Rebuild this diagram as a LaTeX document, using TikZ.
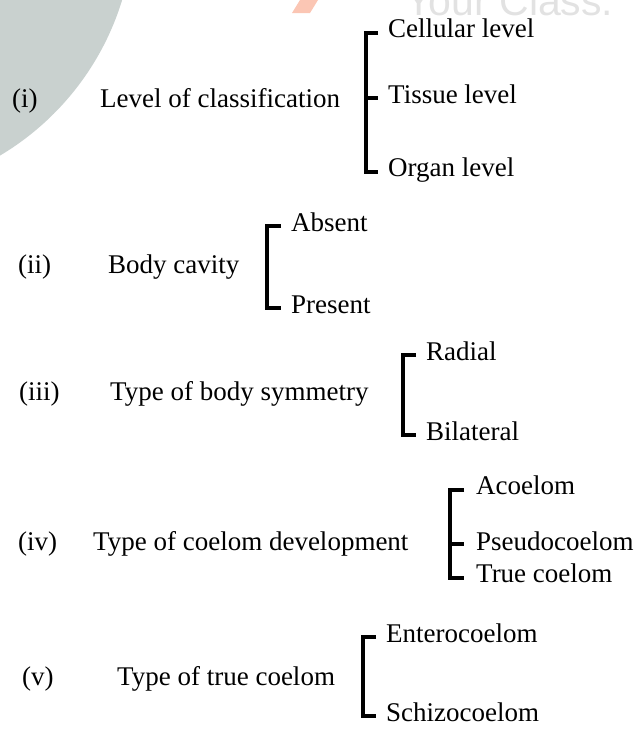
\documentclass[tikz,border=0pt]{standalone}
\usepackage{fontspec}
\setmainfont{Liberation Serif}
\setsansfont{Liberation Sans}

\definecolor{wmgrey}{RGB}{201,209,207}
\definecolor{wmorange}{RGB}{251,198,180}
\definecolor{wmtext}{RGB}{226,226,226}

\begin{document}
\begin{tikzpicture}[x=1pt, y=-1pt, every node/.style={inner sep=0pt, anchor=base west, font=\fontsize{27}{32}\selectfont}, brak/.style={line width=3.5pt}]
    \useasboundingbox (0,0) rectangle (633,729);
    \clip (0,0) rectangle (633,729);
    % watermark
    \fill[wmgrey] (-140,-80) circle[radius=274];
    \fill[wmorange] (300,0) -- (318,0) -- (310,13) -- (292,13) -- cycle;
    \node[font=\sffamily\fontsize{41}{41}\selectfont, text=wmtext] (wm) at (405,15) {Your Class.};

    % (i)
    \node (n1) at (12,107) {(i)};
    \node (lev) at (100,107) {Level of classification};
    \node (cell) at (388,37) {Cellular level};
    \node (tis) at (388,103) {Tissue level};
    \node (org) at (388,176) {Organ level};
    \draw[brak] ([xshift=-10pt,yshift=4pt]cell.base west) -| ([xshift=-22pt,yshift=4pt]org.base west) -- ([xshift=-10pt,yshift=4pt]org.base west);
    \draw[brak] ([xshift=-22pt,yshift=5pt]tis.base west) -- ([xshift=-10pt,yshift=5pt]tis.base west);

    % (ii)
    \node (n2) at (18,273) {(ii)};
    \node (cav) at (108,273) {Body cavity};
    \node (abs) at (291,231) {Absent};
    \node (pres) at (291,313) {Present};
    \draw[brak] ([xshift=-10pt,yshift=5pt]abs.base west) -| ([xshift=-24pt,yshift=5pt]pres.base west) -- ([xshift=-10pt,yshift=5pt]pres.base west);

    % (iii)
    \node (n3) at (19,400) {(iii)};
    \node (sym) at (110,400) {Type of body symmetry};
    \node (rad) at (426,360) {Radial};
    \node (bil) at (426,440) {Bilateral};
    \draw[brak] ([xshift=-10pt,yshift=5pt]rad.base west) -| ([xshift=-23pt,yshift=5pt]bil.base west) -- ([xshift=-10pt,yshift=5pt]bil.base west);

    % (iv)
    \node (n4) at (18,550) {(iv)};
    \node (dev) at (93,550) {Type of coelom development};
    \node (aco) at (476,494) {Acoelom};
    \node (pse) at (476,550) {Pseudocoelom};
    \node (tru) at (476,582) {True coelom};
    \draw[brak] ([xshift=-12pt,yshift=4pt]aco.base west) -| ([xshift=-26pt,yshift=4pt]tru.base west) -- ([xshift=-12pt,yshift=4pt]tru.base west);
    \draw[brak] ([xshift=-26pt,yshift=6pt]pse.base west) -- ([xshift=-12pt,yshift=6pt]pse.base west);

    % (v)
    \node (n5) at (22,685) {(v)};
    \node (tc) at (117,685) {Type of true coelom};
    \node (ent) at (386,642) {Enterocoelom};
    \node (sch) at (386,721) {Schizocoelom};
    \draw[brak] ([xshift=-10pt,yshift=5pt]ent.base west) -| ([xshift=-23pt,yshift=5pt]sch.base west) -- ([xshift=-10pt,yshift=5pt]sch.base west);
\end{tikzpicture}
\end{document}
